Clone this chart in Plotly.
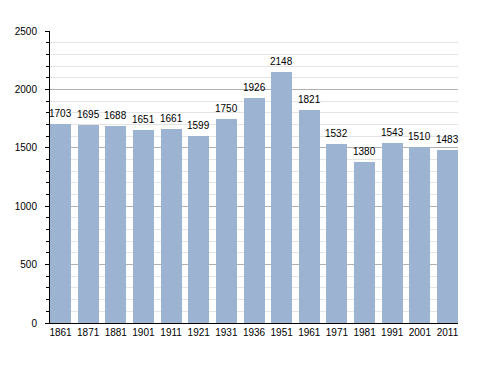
import plotly.graph_objects as go

years = ["1861","1871","1881","1901","1911","1921","1931","1936","1951","1961","1971","1981","1991","2001","2011"]
population = [1703,1695,1688,1651,1661,1599,1750,1926,2148,1821,1532,1380,1543,1510,1483]
y_ticks = [0, 500, 1000, 1500, 2000, 2500]

w = 0.76
idx = list(range(len(years)))
FONT = "Liberation Sans, Arial"
fig = go.Figure()
fig.add_trace(go.Bar(
    x=idx, y=population, width=w,
    marker=dict(color="#9cb4d1", line=dict(width=0)),
    hoverinfo="skip",
))
for i, v in zip(idx, population):
    fig.add_annotation(x=i, y=v, text=str(v), showarrow=False, yanchor="bottom",
                       yshift=3, font=dict(family=FONT, size=10, color="#000"))
fig.update_layout(
    width=480, height=365,
    margin=dict(l=42, r=30, t=23, b=50),
    paper_bgcolor="white", plot_bgcolor="white",
    showlegend=False,
    font=dict(family=FONT, size=10, color="#000"),
    xaxis=dict(range=[-w/2, len(years)-1+w/2], tickvals=idx, ticktext=years,
               showgrid=False, showline=True, linecolor="#000", linewidth=1,
               ticks="", tickfont=dict(size=10), zeroline=False, automargin=False),
    yaxis=dict(range=[0, 2500], tickvals=y_ticks, showgrid=True, gridcolor="#b0b0b0",
               gridwidth=1, showline=True, linecolor="#000", linewidth=1,
               ticks="outside", ticklen=4, tickcolor="#000", zeroline=False,
               tickfont=dict(size=10), ticklabelstandoff=6, automargin=False,
               minor=dict(dtick=100, showgrid=True, gridcolor="#e4e4e4", ticks="outside",
                          ticklen=3, tickcolor="#000")),
    bargap=0,
)
fig.write_html("out.html")
